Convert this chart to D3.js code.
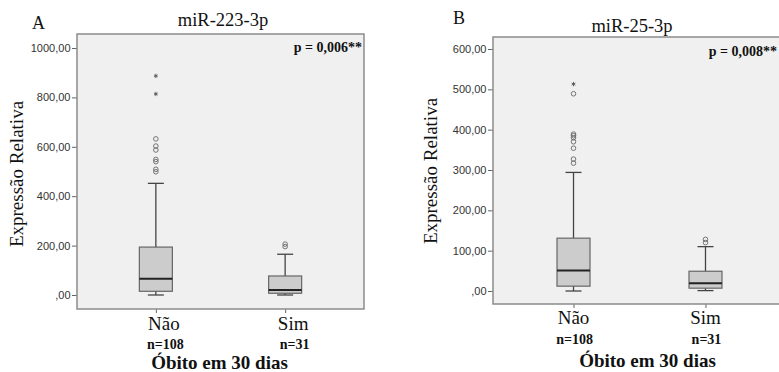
<!DOCTYPE html>
<html>
<head>
<meta charset="utf-8">
<script src="https://cdn.jsdelivr.net/npm/d3@7"></script>
<style>
	body { margin: 0; background: #ffffff; }
	svg { display: block; }
</style>
</head>
<body>
<svg id="chart" width="779" height="372"></svg>
<script>
var categories = ["Não", "Sim"];
var sampleSizes = ["n=108", "n=31"];
var xTitle = "Óbito em 30 dias";
var yTitle = "Expressão Relativa";

// painel A - miR-223-3p
var aTicks = [0, 200, 400, 600, 800, 1000];
var aTickLabels = [",00", "200,00", "400,00", "600,00", "800,00", "1000,00"];
var aLow = [0, 0];
var aQ1 = [15, 7];
var aMedian = [66, 20];
var aQ3 = [194, 77];
var aHigh = [452, 165];
var aOutliers = [[499, 509, 540, 549, 587, 603, 632], [196, 206]];
var aExtremes = [[814, 887], []];

// painel B - miR-25-3p
var bTicks = [0, 100, 200, 300, 400, 500, 600];
var bTickLabels = [",00", "100,00", "200,00", "300,00", "400,00", "500,00", "600,00"];
var bLow = [0, 1];
var bQ1 = [12, 7];
var bMedian = [51, 19];
var bQ3 = [131, 49];
var bHigh = [294, 110];
var bOutliers = [[317, 327, 354, 370, 380, 385, 389, 489], [120, 128]];
var bExtremes = [[513], []];

var svg = d3.select("#chart");

drawBoxPanel(svg, {
	letter: "A", title: "miR-223-3p", pValue: "p = 0,006**",
	ticks: aTicks, tickLabels: aTickLabels,
	low: aLow, q1: aQ1, median: aMedian, q3: aQ3, high: aHigh,
	outliers: aOutliers, extremes: aExtremes,
	left: 77, right: 364, top: 34, bottom: 309, zeroY: 295, topTickY: 48,
	letterX: 32, letterY: 29, titleX: 223, titleY: 26, pX: 362, pY: 52,
	yTitleX: 23, yTitleY: 174, catShift: 8, catY: 330, nShift: 9.5, nY: 348.5,
	xTitleX: 219.5, xTitleY: 368.5
});

drawBoxPanel(svg, {
	letter: "B", title: "miR-25-3p", pValue: "p = 0,008**",
	ticks: bTicks, tickLabels: bTickLabels,
	low: bLow, q1: bQ1, median: bMedian, q3: bQ3, high: bHigh,
	outliers: bOutliers, extremes: bExtremes,
	left: 493, right: 786, top: 37, bottom: 304, zeroY: 291, topTickY: 49,
	letterX: 453, letterY: 24, titleX: 632, titleY: 31.5, pX: 777, pY: 56,
	yTitleX: 437, yTitleY: 171, catShift: 0, catY: 323.5, nShift: 1, nY: 344,
	xTitleX: 647.5, xTitleY: 366.5
});

function drawBoxPanel(svg, p) {
	var serif = "'Liberation Serif', 'Times New Roman', serif";
	var boxWidth = 33;
	var capWidth = 16;

	var xScale = d3.scalePoint()
		.domain(categories)
		.range([p.left, p.right])
		.padding(0.61);
	var yScale = d3.scaleLinear()
		.domain([0, p.ticks[p.ticks.length - 1]])
		.range([p.zeroY, p.topTickY]);

	var g = svg.append('g');

	g.append('rect')
		.attr('x', p.left)
		.attr('y', p.top)
		.attr('width', p.right - p.left)
		.attr('height', p.bottom - p.top)
		.style('fill', '#f0f0f0');

	var yAxis = d3.axisLeft(yScale)
		.tickValues(p.ticks)
		.tickFormat(function (d, i) {
			return p.tickLabels[i];
		})
		.tickSize(5)
		.tickPadding(1.5);
	var yAxisG = g.append('g').attr('transform', 'translate(' + p.left + ',0)').call(yAxis);
	yAxisG.select('.domain').remove();
	yAxisG.selectAll('line').style('stroke', '#666');
	yAxisG.selectAll('text')
		.style('font-family', "'Liberation Sans', Arial, sans-serif")
		.style('font-size', '11px')
		.style('fill', '#333');

	var xAxis = d3.axisBottom(xScale).tickSize(4).tickFormat('');
	var xAxisG = g.append('g').attr('transform', 'translate(0,' + p.bottom + ')').call(xAxis);
	xAxisG.select('.domain').remove();
	xAxisG.selectAll('line').style('stroke', '#666');

	var boxes = categories.map(function (c, i) {
		return {
			cat: c, low: p.low[i], q1: p.q1[i], median: p.median[i], q3: p.q3[i], high: p.high[i],
			outliers: p.outliers[i], extremes: p.extremes[i]
		};
	});

	var boxG = g.selectAll('.box').data(boxes).enter().append('g').attr('class', 'box');
	// bigodes
	boxG.append('line')
		.attr('x1', function (d) { return xScale(d.cat); })
		.attr('x2', function (d) { return xScale(d.cat); })
		.attr('y1', function (d) { return yScale(d.high); })
		.attr('y2', function (d) { return yScale(d.low); })
		.style('stroke', '#444').style('stroke-width', 1.3);
	boxG.append('line')
		.attr('x1', function (d) { return xScale(d.cat) - capWidth / 2; })
		.attr('x2', function (d) { return xScale(d.cat) + capWidth / 2; })
		.attr('y1', function (d) { return yScale(d.high); })
		.attr('y2', function (d) { return yScale(d.high); })
		.style('stroke', '#444').style('stroke-width', 1.3);
	boxG.append('line')
		.attr('x1', function (d) { return xScale(d.cat) - capWidth / 2; })
		.attr('x2', function (d) { return xScale(d.cat) + capWidth / 2; })
		.attr('y1', function (d) { return yScale(d.low); })
		.attr('y2', function (d) { return yScale(d.low); })
		.style('stroke', '#444').style('stroke-width', 1.3);
	boxG.append('rect')
		.attr('x', function (d) { return xScale(d.cat) - boxWidth / 2; })
		.attr('y', function (d) { return yScale(d.q3); })
		.attr('width', boxWidth)
		.attr('height', function (d) { return yScale(d.q1) - yScale(d.q3); })
		.style('fill', '#cccccc')
		.style('stroke', '#666').style('stroke-width', 1.2);
	boxG.append('line')
		.attr('x1', function (d) { return xScale(d.cat) - boxWidth / 2; })
		.attr('x2', function (d) { return xScale(d.cat) + boxWidth / 2; })
		.attr('y1', function (d) { return yScale(d.median); })
		.attr('y2', function (d) { return yScale(d.median); })
		.style('stroke', '#222').style('stroke-width', 2);

	boxG.each(function (d) {
		var sel = d3.select(this);
		sel.selectAll('circle').data(d.outliers).enter().append('circle')
			.attr('cx', xScale(d.cat))
			.attr('cy', function (v) { return yScale(v); })
			.attr('r', 2.3)
			.style('fill', 'none')
			.style('stroke', '#666').style('stroke-width', 0.9);
		sel.selectAll('.star').data(d.extremes).enter().append('path')
			.attr('class', 'star')
			.attr('d', d3.symbol().type(d3.symbolAsterisk).size(13))
			.attr('transform', function (v) {
				return 'translate(' + xScale(d.cat) + ',' + yScale(v) + ')';
			})
			.style('stroke', '#555').style('stroke-width', 0.9);
	});

	g.append('rect')
		.attr('x', p.left)
		.attr('y', p.top)
		.attr('width', p.right - p.left)
		.attr('height', p.bottom - p.top)
		.style('fill', 'none')
		.style('stroke', '#8c8c8c').style('stroke-width', 1.5);

	// textos
	g.append('text').attr('x', p.letterX).attr('y', p.letterY).text(p.letter)
		.style('font-family', serif).style('font-size', '18px').style('fill', '#111');
	g.append('text').attr('x', p.titleX).attr('y', p.titleY).text(p.title)
		.attr('text-anchor', 'middle')
		.style('font-family', serif).style('font-size', '18.5px').style('fill', '#111');
	g.append('text').attr('x', p.pX).attr('y', p.pY).text(p.pValue)
		.attr('text-anchor', 'end')
		.style('font-family', serif).style('font-size', '14px').style('font-weight', 'bold').style('fill', '#111');
	g.append('text').text(yTitle)
		.attr('transform', 'translate(' + p.yTitleX + ',' + p.yTitleY + ') rotate(-90)')
		.attr('text-anchor', 'middle')
		.style('font-family', serif).style('font-size', '19px').style('fill', '#111');

	g.selectAll('.cat').data(categories).enter().append('text')
		.attr('class', 'cat')
		.attr('x', function (d) { return xScale(d) + p.catShift; })
		.attr('y', p.catY)
		.attr('text-anchor', 'middle')
		.text(function (d) { return d; })
		.style('font-family', serif).style('font-size', '19px').style('fill', '#111');
	g.selectAll('.nlab').data(categories).enter().append('text')
		.attr('class', 'nlab')
		.attr('x', function (d) { return xScale(d) + p.nShift; })
		.attr('y', p.nY)
		.attr('text-anchor', 'middle')
		.text(function (d, i) { return sampleSizes[i]; })
		.style('font-family', serif).style('font-size', '14px').style('font-weight', 'bold').style('fill', '#111');
	g.append('text').attr('x', p.xTitleX).attr('y', p.xTitleY).text(xTitle)
		.attr('text-anchor', 'middle')
		.style('font-family', serif).style('font-size', '19px').style('font-weight', 'bold').style('fill', '#111');
}
</script>
</body>
</html>
